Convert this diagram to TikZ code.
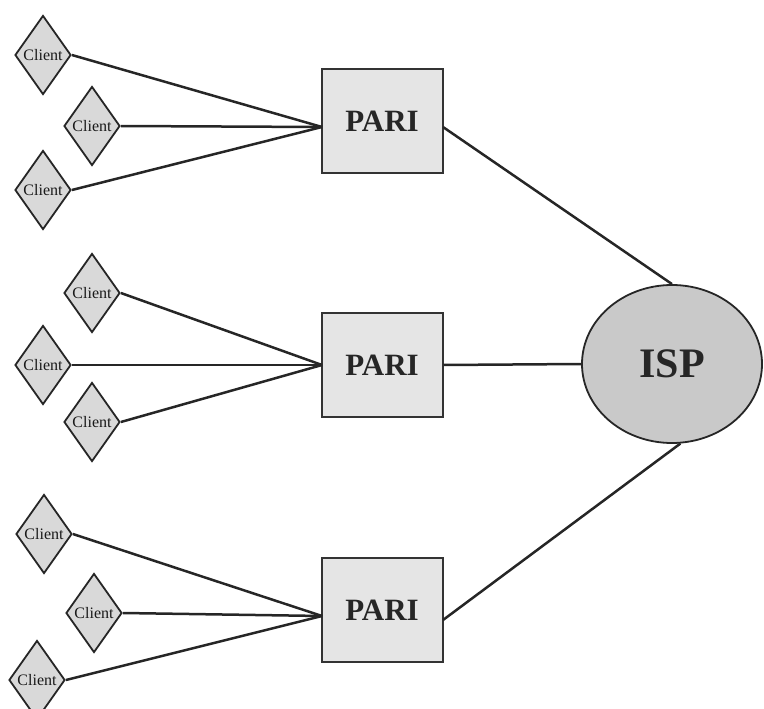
\documentclass[tikz,border=0pt]{standalone}
\usepackage{fontspec}
\setmainfont{Liberation Serif}
\usetikzlibrary{shapes.geometric}
\tikzset{
  client/.style={diamond, draw=black!85, line width=1.8pt, fill=gray!30,
    minimum width=56pt, minimum height=79pt, inner sep=0pt,
    label={[font=\fontsize{16}{16}\selectfont, text=black!90]center:Client}},
  pari/.style={rectangle, draw=black!80, line width=2pt, fill=gray!20,
    minimum width=121pt, minimum height=104pt, inner sep=0pt,
    font=\fontsize{31}{31}\selectfont\bfseries, text=black!85},
  isp/.style={ellipse, draw=black!85, line width=1.8pt, fill=gray!42,
    minimum width=180pt, minimum height=158pt, inner sep=0pt,
    font=\fontsize{42}{42}\selectfont\bfseries, text=black!85},
  link/.style={draw=black!85, line width=2.5pt}
}
\begin{document}
\begin{tikzpicture}[x=1pt,y=-1pt]
\useasboundingbox (0,0) rectangle (764,709);
% PARI boxes and ISP
\node[pari] (p1) at (382,121) {PARI};
\node[pari] (p2) at (382,365) {PARI};
\node[pari] (p3) at (382,610) {PARI};
\node[isp] (isp) at (672,364) {ISP};
% junction points on the boxes
\coordinate (j1) at (322,127);
\coordinate (j2) at (322,365);
\coordinate (j3) at (322,616);
\coordinate (o1) at (443,127);
\coordinate (o3) at (443,620);
% PARI to ISP links
\draw[link] (o1) -- (isp.north);
\draw[link] (p2.east) -- (isp.west);
\draw[link] (o3) -- (isp.-84);
% clients
\node[client] (c1) at (43,55) {};
\node[client] (c2) at (92,126) {};
\node[client] (c3) at (43,190) {};
\node[client] (c4) at (92,293) {};
\node[client] (c5) at (43,365) {};
\node[client] (c6) at (92,422) {};
\node[client] (c7) at (44,534) {};
\node[client] (c8) at (94,613) {};
\node[client] (c9) at (37,680) {};
% client links
\draw[link] (c1.east) -- (j1);
\draw[link] (c2.east) -- (j1);
\draw[link] (c3.east) -- (j1);
\draw[link] (c4.east) -- (j2);
\draw[link] (c5.east) -- (j2);
\draw[link] (c6.east) -- (j2);
\draw[link] (c7.east) -- (j3);
\draw[link] (c8.east) -- (j3);
\draw[link] (c9.east) -- (j3);
\end{tikzpicture}
\end{document}
